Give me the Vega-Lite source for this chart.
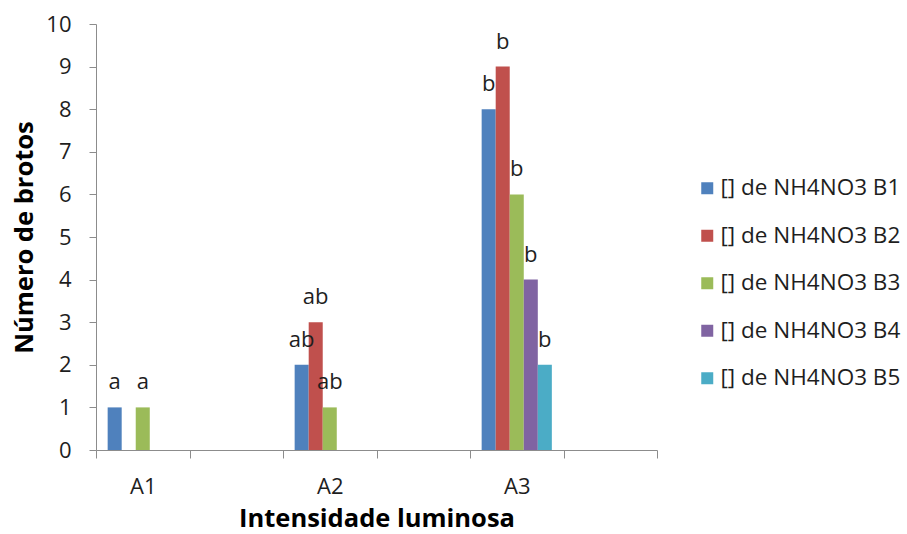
{
  "$schema": "https://vega.github.io/schema/vega-lite/v6.json",
  "autosize": {"type": "none"},
  "width": 561,
  "height": 426,
  "padding": {"left": 96, "top": 24, "right": 250, "bottom": 84},
  "background": "white",
  "config": {
    "font": "Open Sans",
    "view": {"stroke": null}
  },
  "data": {
    "values": [
      {"intensidade": "A1", "serie": "[] de NH4NO3 B1", "brotos": 1, "letra": "a"},
      {"intensidade": "A1", "serie": "[] de NH4NO3 B3", "brotos": 1, "letra": "a"},
      {"intensidade": "A2", "serie": "[] de NH4NO3 B1", "brotos": 2, "letra": "ab"},
      {"intensidade": "A2", "serie": "[] de NH4NO3 B2", "brotos": 3, "letra": "ab"},
      {"intensidade": "A2", "serie": "[] de NH4NO3 B3", "brotos": 1, "letra": "ab"},
      {"intensidade": "A3", "serie": "[] de NH4NO3 B1", "brotos": 8, "letra": "b"},
      {"intensidade": "A3", "serie": "[] de NH4NO3 B2", "brotos": 9, "letra": "b"},
      {"intensidade": "A3", "serie": "[] de NH4NO3 B3", "brotos": 6, "letra": "b"},
      {"intensidade": "A3", "serie": "[] de NH4NO3 B4", "brotos": 4, "letra": "b"},
      {"intensidade": "A3", "serie": "[] de NH4NO3 B5", "brotos": 2, "letra": "b"}
    ]
  },
  "layer": [
    {
      "mark": {"type": "bar"},
      "encoding": {
        "x": {
          "field": "intensidade",
          "type": "nominal",
          "scale": {"domain": ["A1", "_2", "A2", "_4", "A3", "_6"], "paddingInner": 0, "paddingOuter": 0},
          "axis": {
            "title": "Intensidade luminosa",
            "titleFontSize": 25.5,
            "titleFontWeight": "bold",
            "titleColor": "#000000",
            "titlePadding": 9,
            "labelExpr": "(datum.value === 'A1' || datum.value === 'A2' || datum.value === 'A3') ? datum.value : ''",
            "labelFontSize": 22,
            "labelColor": "#1e1e1e",
            "labelPadding": 18,
            "labelAngle": 0,
            "tickBand": "extent",
            "tickSize": 8,
            "tickColor": "#8c8c8c",
            "domainColor": "#8c8c8c",
            "grid": false
          }
        },
        "xOffset": {
          "field": "serie",
          "type": "nominal",
          "scale": {
            "domain": ["[] de NH4NO3 B1", "[] de NH4NO3 B2", "[] de NH4NO3 B3", "[] de NH4NO3 B4", "[] de NH4NO3 B5"],
            "paddingOuter": 0.83,
            "paddingInner": 0
          }
        },
        "y": {
          "field": "brotos",
          "type": "quantitative",
          "scale": {"domain": [0, 10], "nice": false},
          "axis": {
            "title": "Número de brotos",
            "titleFontSize": 25.5,
            "titleFontWeight": "bold",
            "titleColor": "#000000",
            "titlePadding": 8,
            "values": [0, 1, 2, 3, 4, 5, 6, 7, 8, 9, 10],
            "labelFontSize": 22,
            "labelColor": "#1e1e1e",
            "labelPadding": 18,
            "tickSize": 7,
            "tickColor": "#8c8c8c",
            "domainColor": "#8c8c8c",
            "grid": false
          }
        },
        "color": {
          "field": "serie",
          "type": "nominal",
          "scale": {
            "domain": ["[] de NH4NO3 B1", "[] de NH4NO3 B2", "[] de NH4NO3 B3", "[] de NH4NO3 B4", "[] de NH4NO3 B5"],
            "range": ["#4F81BD", "#C0504D", "#9BBB59", "#8064A2", "#4BACC6"]
          },
          "legend": {
            "title": null,
            "orient": "none",
            "legendX": 600,
            "legendY": 153,
            "symbolType": "square",
            "symbolSize": 144,
            "symbolStrokeWidth": 0,
            "labelFontSize": 22.5,
            "labelColor": "#1e1e1e",
            "labelOffset": 2,
            "labelLimit": 400,
            "rowPadding": 24.5
          }
        }
      }
    },
    {
      "mark": {"type": "text", "baseline": "alphabetic", "dy": -18, "fontSize": 22, "color": "#1e1e1e"},
      "encoding": {
        "x": {"field": "intensidade", "type": "nominal"},
        "xOffset": {"field": "serie", "type": "nominal"},
        "y": {"field": "brotos", "type": "quantitative"},
        "text": {"field": "letra", "type": "nominal"}
      }
    }
  ]
}
